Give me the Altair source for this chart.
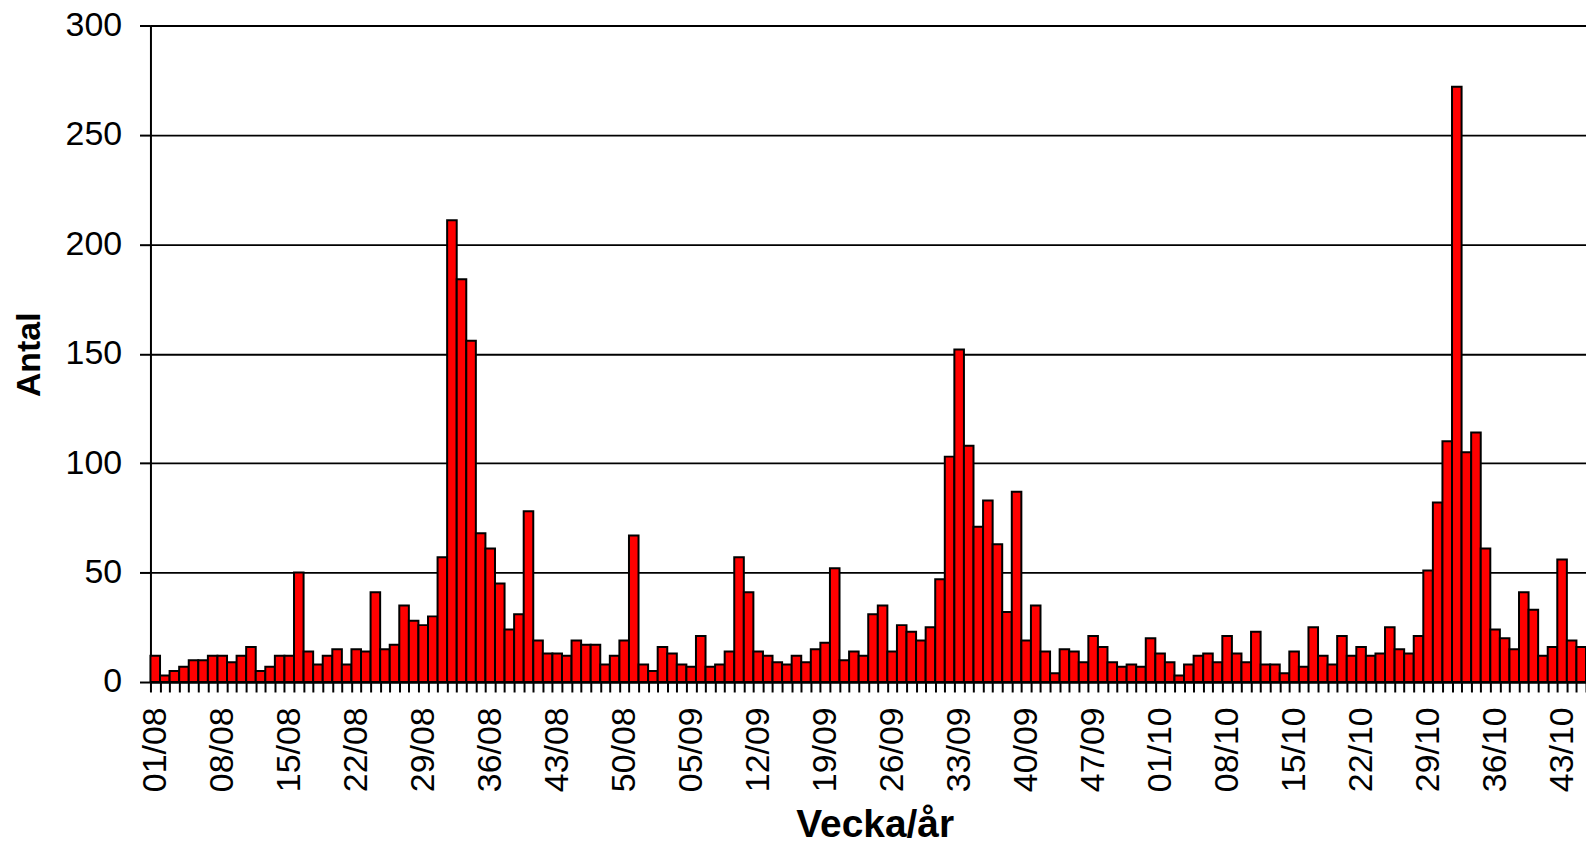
import json
import altair as alt
import pandas as pd

# Weekly counts
values_2008 = [12, 3, 5, 7, 10, 10, 12, 12, 9, 12, 16, 5, 7, 12, 12, 50, 14, 8, 12, 15,
               8, 15, 14, 41, 15, 17, 35, 28, 26, 30, 57, 211, 184, 156, 68, 61, 45, 24, 31, 78,
               19, 13, 13, 12, 19, 17, 17, 8, 12, 19, 67, 8]
values_2009 = [5, 16, 13, 8, 7, 21, 7, 8, 14, 57, 41, 14, 12, 9, 8, 12, 9, 15, 18, 52,
               10, 14, 12, 31, 35, 14, 26, 23, 19, 25, 47, 103, 152, 108, 71, 83, 63, 32, 87, 19,
               35, 14, 4, 15, 14, 9, 21, 16, 9, 7, 8, 7, 20]
values_2010 = [13, 9, 3, 8, 12, 13, 9, 21, 13, 9, 23, 8, 8, 4, 14, 7, 25, 12, 8, 21,
               12, 16, 12, 13, 25, 15, 13, 21, 51, 82, 110, 272, 105, 114, 61, 24, 20, 15, 41, 33,
               12, 16, 56, 19, 16]

years = ["08", "09", "10"]
shown_labels = ["01/08", "08/08", "15/08", "22/08", "29/08", "36/08", "43/08", "50/08",
                "05/09", "12/09", "19/09", "26/09", "33/09", "40/09", "47/09",
                "01/10", "08/10", "15/10", "22/10", "29/10", "36/10", "43/10"]
y_ticks = [0, 50, 100, 150, 200, 250, 300]

weeks, counts = [], []
for yr, vals in zip(years, [values_2008, values_2009, values_2010]):
    for i, v in enumerate(vals):
        weeks.append(f"{i + 1:02d}/{yr}")
        counts.append(v)

df = pd.DataFrame({"week": weeks, "count": counts})

FONT = "Liberation Sans"
label_expr = "indexof(" + json.dumps(shown_labels) + ", datum.value) >= 0 ? datum.value : ''"

chart = alt.Chart(df).mark_bar(
    fill="#FF0000", stroke="#000000", strokeWidth=2
).encode(
    x=alt.X(
        "week:N", sort=None,
        scale=alt.Scale(paddingInner=0, paddingOuter=0),
        axis=alt.Axis(
            title="Vecka/år", labelExpr=label_expr, labelAngle=-90, labelOverlap=False,
            labelFont=FONT, labelFontSize=34, labelColor="#000000", labelPadding=15,
            tickBand="extent", tickSize=10, tickWidth=2, tickColor="#000000",
            domainColor="#000000", domainWidth=2, grid=False,
            titleFont=FONT, titleFontSize=39, titleFontWeight="bold", titleColor="#000000",
            titleY=155, titleBaseline="alphabetic", titleX=727, titleAlign="center",
        ),
    ),
    y=alt.Y(
        "count:Q",
        scale=alt.Scale(domain=[0, 300], nice=False),
        axis=alt.Axis(
            title="Antal", values=y_ticks, labelFont=FONT, labelFontSize=34,
            labelColor="#000000", labelPadding=18, tickSize=11, tickWidth=2,
            tickColor="#000000", domainColor="#000000", domainWidth=2,
            grid=True, gridColor="#000000", gridWidth=1.8,
            titleFont=FONT, titleFontSize=34, titleFontWeight="bold", titleColor="#000000",
            titleAngle=270, titleX=-111, titleY=330, titleBaseline="alphabetic",
            titleAlign="center",
        ),
    ),
).properties(
    width=1441, height=659,
    padding={"left": 143, "top": 16, "right": 0, "bottom": 160},
    autosize=alt.AutoSizeParams(type="none"),
    background="#FFFFFF",
).configure_view(strokeWidth=0)

chart.save("out.html", embed_options={"renderer": "svg", "actions": False})
